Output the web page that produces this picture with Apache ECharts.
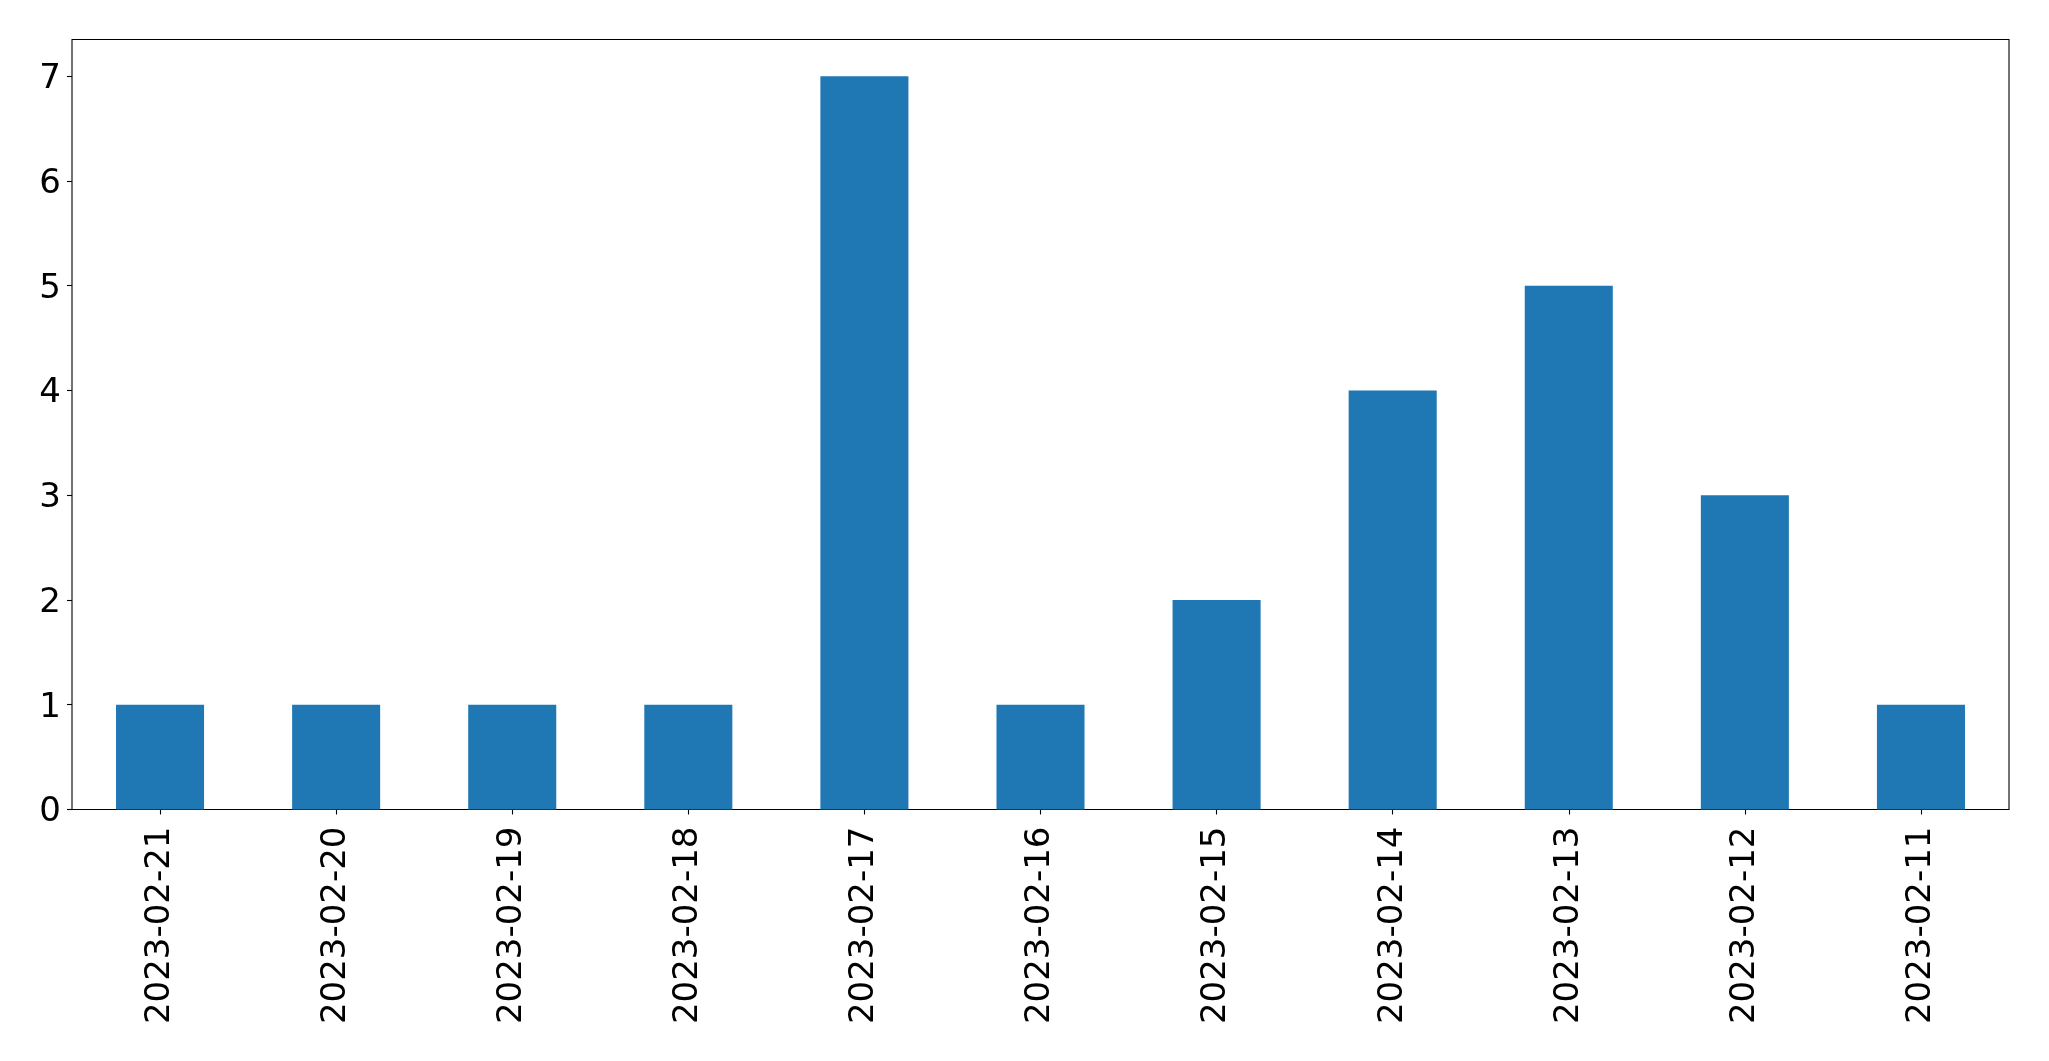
<!DOCTYPE html>
<html>
<head>
<meta charset="utf-8">
<script src="https://cdn.jsdelivr.net/npm/echarts@6/dist/echarts.min.js"></script>
<style>
html,body{margin:0;padding:0;background:#fff;}
#chart{width:2049px;height:1061px;}
</style>
</head>
<body>
<div id="chart"></div>
<script>
const categories = ['2023-02-21','2023-02-20','2023-02-19','2023-02-18','2023-02-17','2023-02-16','2023-02-15','2023-02-14','2023-02-13','2023-02-12','2023-02-11'];
const values = [1,1,1,1,7,1,2,4,5,3,1];
const yTicks = [0,1,2,3,4,5,6,7];

const chart = echarts.init(document.getElementById('chart'), null, {renderer:'canvas'});
const font = 'DejaVu Sans';
chart.setOption({
  animation:false,
  backgroundColor:'#fff',
  grid:{left:72,top:39.5,width:1937,height:770,show:true,borderColor:'#000',borderWidth:1.1,backgroundColor:'transparent'},
  xAxis:{
    type:'category',
    data:categories,
    boundaryGap:true,
    axisLine:{show:false},
    axisTick:{show:true,alignWithLabel:true,length:5,lineStyle:{color:'#000',width:1.1}},
    axisLabel:{rotate:90,margin:17,color:'#000',fontFamily:font,fontSize:34,interval:0}
  },
  yAxis:{
    type:'value',
    min:0,max:7.35,interval:1,
    splitLine:{show:false},
    axisLine:{show:false},
    axisTick:{show:true,length:5,customValues:yTicks,lineStyle:{color:'#000',width:1.1}},
    axisLabel:{margin:11,color:'#000',fontFamily:font,fontSize:34,customValues:yTicks,
      formatter:'{v|{value}}',
      rich:{v:{fontFamily:font,fontSize:34,color:'#000',padding:[6,0,0,0]}}}
  },
  series:[{
    type:'bar',
    data:values,
    barWidth:'50%',
    itemStyle:{color:'#1f77b4'}
  }]
});
</script>
</body>
</html>
